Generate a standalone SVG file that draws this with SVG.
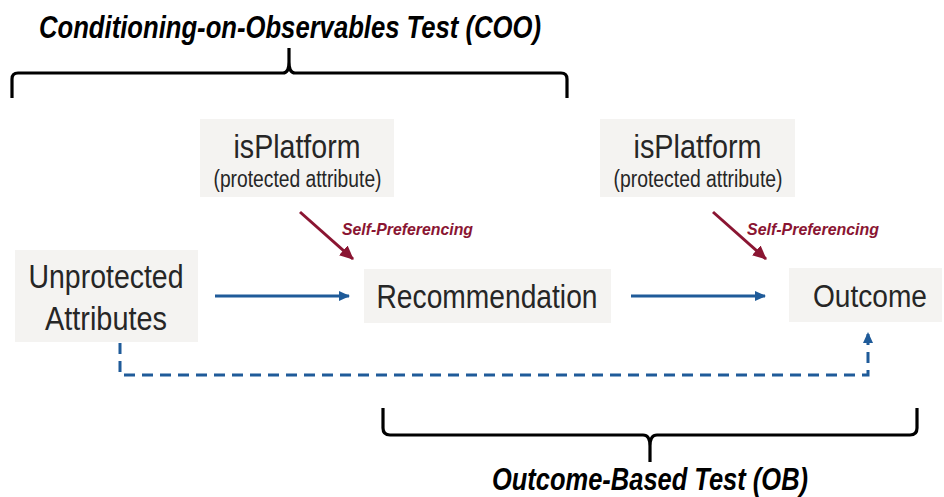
<svg xmlns="http://www.w3.org/2000/svg" width="944" height="497" viewBox="0 0 944 497">
<style>
.box{fill:#f4f3f1}
.lbl{font-family:"Liberation Sans",Arial,sans-serif;fill:#262626;text-anchor:middle}
.title{font-family:"Liberation Sans",Arial,sans-serif;font-weight:bold;font-style:italic;fill:#000;font-size:31px;text-anchor:middle}
.sp{font-family:"Liberation Sans",Arial,sans-serif;font-weight:bold;font-style:italic;fill:#8a1532;font-size:17px}
.blue{stroke:#1f5b99;stroke-width:3;fill:none}
.red{stroke:#8a1532;stroke-width:3;fill:none}
.brace{stroke:#000;stroke-width:3.2;fill:none;stroke-linejoin:round}
</style>
<defs>
<marker id="ab" markerUnits="userSpaceOnUse" markerWidth="12" markerHeight="12" refX="10" refY="6" orient="auto"><path d="M0,1 L11,6 L0,11 Z" fill="#1f5b99"/></marker>
<marker id="ar" markerUnits="userSpaceOnUse" markerWidth="15" markerHeight="15" refX="13" refY="7.5" orient="auto"><path d="M0,1 L14,7.5 L0,14 Z" fill="#8a1532"/></marker>
</defs>
<g id="coo-label">
<text class="title" x="290" y="38" textLength="502" lengthAdjust="spacingAndGlyphs">Conditioning-on-Observables Test (COO)</text>
<path class="brace" d="M12,98 V79 Q12,73 18,73 H283 Q289,73 289,62 L289,48 M289,62 Q289,73 295,73 H561 Q567,73 567,79 V98"/>
</g>
<g id="ob-label">
<path class="brace" d="M383,408 V428 Q383,435 390,435 H643 Q650,435 650,446 V462 M650,446 Q650,435 657,435 H910 Q917,435 917,428 V408"/>
<text class="title" x="650" y="490" textLength="316" lengthAdjust="spacingAndGlyphs">Outcome-Based Test (OB)</text>
</g>
<g id="isPlatform1">
<rect class="box" x="200" y="119" width="194" height="78"/>
<text class="lbl" x="297" y="158" font-size="33" textLength="127" lengthAdjust="spacingAndGlyphs">isPlatform</text>
<text class="lbl" x="297.5" y="187" font-size="23" textLength="168" lengthAdjust="spacingAndGlyphs">(protected attribute)</text>
</g>
<g id="isPlatform2">
<rect class="box" x="600" y="119" width="195" height="78"/>
<text class="lbl" x="697.5" y="158" font-size="33" textLength="128" lengthAdjust="spacingAndGlyphs">isPlatform</text>
<text class="lbl" x="698" y="187" font-size="23" textLength="169" lengthAdjust="spacingAndGlyphs">(protected attribute)</text>
</g>
<g id="unprotected">
<rect class="box" x="15" y="250" width="183" height="92"/>
<text class="lbl" x="106" y="288" font-size="33" textLength="155" lengthAdjust="spacingAndGlyphs">Unprotected</text>
<text class="lbl" x="106" y="330" font-size="33" textLength="122" lengthAdjust="spacingAndGlyphs">Attributes</text>
</g>
<g id="recommendation">
<rect class="box" x="364" y="269" width="247" height="54"/>
<text class="lbl" x="487" y="308" font-size="33" textLength="221" lengthAdjust="spacingAndGlyphs">Recommendation</text>
</g>
<g id="outcome">
<rect class="box" x="789" y="268" width="153" height="54"/>
<text class="lbl" x="870" y="307" font-size="31" textLength="114" lengthAdjust="spacingAndGlyphs">Outcome</text>
</g>
<g id="connectors">
<line class="blue" x1="215" y1="296" x2="349" y2="296" marker-end="url(#ab)"/>
<line class="blue" x1="631" y1="296" x2="765" y2="296" marker-end="url(#ab)"/>
<path class="blue" d="M120,343 V375 H868 V333" stroke-dasharray="11 7" marker-end="url(#ab)"/>
<line class="red" x1="300" y1="212" x2="353" y2="259" marker-end="url(#ar)"/>
<line class="red" x1="713" y1="212" x2="766" y2="259" marker-end="url(#ar)"/>
<text class="sp" x="342" y="235" textLength="131" lengthAdjust="spacingAndGlyphs">Self-Preferencing</text>
<text class="sp" x="747" y="235" textLength="132" lengthAdjust="spacingAndGlyphs">Self-Preferencing</text>
</g>
</svg>
